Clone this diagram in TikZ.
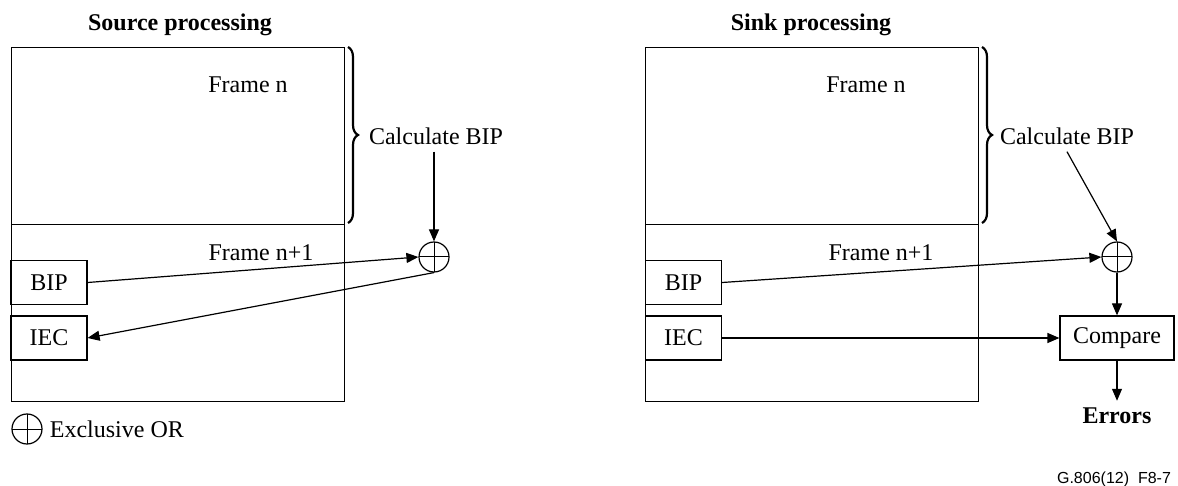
\documentclass[tikz,border=0pt]{standalone}
\usepackage{fontspec}
\setmainfont{Liberation Serif}
\setsansfont{Liberation Sans}
\usetikzlibrary{arrows.meta,decorations.pathreplacing}

\begin{document}
\begin{tikzpicture}[x=0.5pt, y=-0.5pt, >={Triangle[length=6pt,width=5pt]}, line width=0.6pt, font=\fontsize{12}{14}\selectfont]
\tikzset{
  framebox/.style={draw, anchor=north west, minimum width=166.5pt, minimum height=88.5pt, inner sep=0pt},
  fieldbox/.style={draw, minimum width=38pt, minimum height=22pt, inner sep=0pt},
  cmpbox/.style={draw, minimum width=57pt, minimum height=22pt, inner sep=0pt},
  xorsym/.style={circle, draw, minimum size=15pt, inner sep=0pt,
    path picture={\draw[line width=0.5pt] (path picture bounding box.north) -- (path picture bounding box.south)
      (path picture bounding box.west) -- (path picture bounding box.east);}},
  headline/.style={font=\fontsize{12}{14}\selectfont\bfseries},
  bracenote/.style={decorate, decoration={brace, amplitude=5pt}, line width=1.1pt}
}
\useasboundingbox (0,0) rectangle (1178,486);

% source side
\node[headline] (srcHead) at (180,25) {Source processing};
\node[framebox] (srcN) at (11,47) {};
\node[framebox] (srcN1) at (11,224) {};
\node (srcNlbl) at (248,85) {Frame n};
\node (srcN1lbl) at (261,253) {Frame n+1};
\node[fieldbox] (srcBIP) at (49,282.5) {BIP};
\node[fieldbox] (srcIEC) at (49,338) {IEC};
\draw[bracenote] (348,47) -- (348,223);
\node (srcCalc) at (436,136) {Calculate BIP};
\node[xorsym] (srcXor) at (434,257) {};

\draw[->] (srcCalc.south -| srcXor) -- (srcXor.north);
\draw[->] (srcBIP.east) -- (srcXor.west);
\draw[->] (srcXor.south) -- (srcIEC.east);

\node[xorsym] (legXor) at (27,429) {};
\node[anchor=west] (legTxt) at (legXor.east) {Exclusive OR};

% sink side
\node[headline] (snkHead) at (811,25) {Sink processing};
\node[framebox] (snkN) at (645,47) {};
\node[framebox] (snkN1) at (645,224) {};
\node (snkNlbl) at (866,85) {Frame n};
\node (snkN1lbl) at (881,253) {Frame n+1};
\node[fieldbox] (snkBIP) at (683.5,282.5) {BIP};
\node[fieldbox] (snkIEC) at (683.5,338) {IEC};
\draw[bracenote] (982,47) -- (982,223);
\node (snkCalc) at (1067,136) {Calculate BIP};
\node[xorsym] (snkXor) at (1117,257) {};
\node[cmpbox] (snkCmp) at (1117,338) {Compare};
\node[headline] (snkErr) at (1117,416) {Errors};

\draw[->] (snkCalc.south) -- (snkXor.north);
\draw[->] (snkBIP.east) -- (snkXor.west);
\draw[->] (snkXor.south) -- (snkCmp.north);
\draw[->] (snkIEC.east) -- (snkCmp.west);
\draw[->] (snkCmp.south) -- (snkErr.north);

\node[font=\sffamily\fontsize{8}{10}\selectfont] (figId) at (1114,479) {G.806(12)\ \ F8-7};
\end{tikzpicture}
\end{document}
